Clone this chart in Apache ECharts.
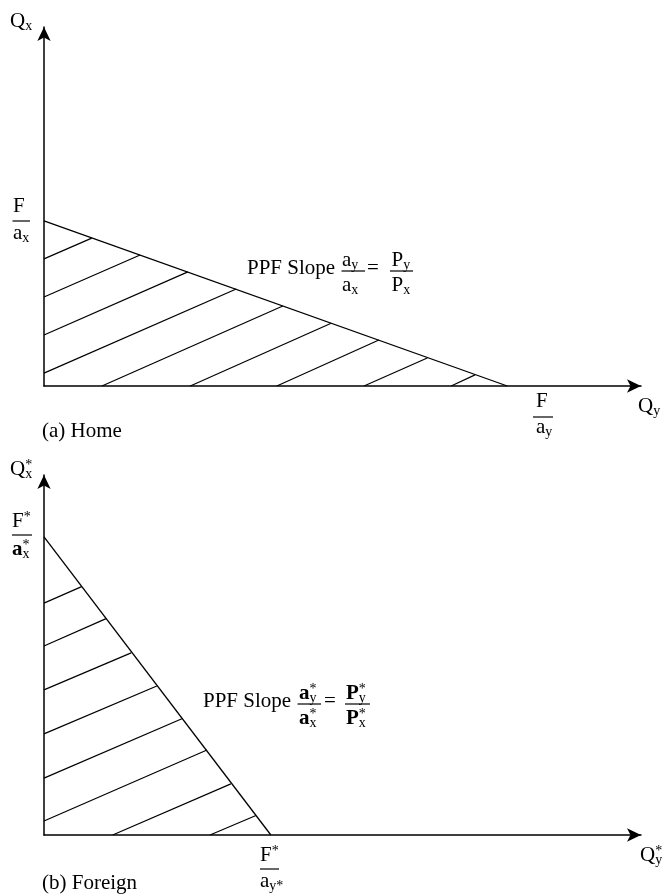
<!DOCTYPE html>
<html>
<head>
<meta charset="utf-8">
<script src="https://cdn.jsdelivr.net/npm/echarts@6/dist/echarts.min.js"></script>
<style>
  html, body { margin: 0; padding: 0; background: #fff; }
  #main { width: 662px; height: 894px; }
</style>
</head>
<body>
<div id="main"></div>
<script>
// values are in axis units (0..100 on both axes of each panel)
// (a) Home: PPF end points and the hatch segments under it
const homePPF = [[0, 46.0], [77.6, 0]];
const homeHatch = [
  [[0, 35.4], [8.0, 41.2]],
  [[0, 24.8], [16.1, 36.5]],
  [[0, 14.2], [24.1, 31.8]],
  [[0, 3.6], [32.2, 27.0]],
  [[9.7, 0], [40.0, 22.3]],
  [[24.5, 0], [48.1, 17.5]],
  [[39.0, 0], [56.1, 12.8]],
  [[53.6, 0], [64.2, 7.8]],
  [[68.2, 0], [72.2, 3.1]]
];
// (b) Foreign
const foreignPPF = [[0, 82.8], [38.0, 0]];
const foreignHatch = [
  [[0, 64.4], [6.3, 69.0]],
  [[0, 52.5], [10.4, 60.1]],
  [[0, 40.3], [14.6, 50.6]],
  [[0, 28.1], [18.9, 41.4]],
  [[0, 15.8], [23.1, 32.3]],
  [[0, 3.9], [27.3, 23.6]],
  [[11.5, 0], [31.3, 14.2]],
  [[27.8, 0], [35.5, 5.4]]
];

const FONT = '"Liberation Serif", "Times New Roman", serif';
const ctx = document.createElement('canvas').getContext('2d');
function tw(s, size, bold) {
  ctx.font = (bold ? 'bold ' : '') + size + 'px ' + FONT;
  return ctx.measureText(s).width;
}
// text placed by its baseline
function t(x, base, s, size, bold) {
  size = size || 21;
  return {
    type: 'text', x: x, y: base - size * 0.32,
    style: {
      text: s, font: (bold ? 'bold ' : '') + size + 'px ' + FONT, fill: '#000',
      align: 'left', textAlign: 'left', verticalAlign: 'middle', textVerticalAlign: 'middle'
    }
  };
}
// letter with optional subscript / superscript
function sym(x, base, letter, sub, sup, bold) {
  const out = [t(x, base, letter, 21, bold)];
  const w = tw(letter, 21, bold);
  if (sub) out.push(t(x + w, base + 3, sub, 14, false));
  if (sup) out.push(t(x + w, base - 6, sup, 14, false));
  return out;
}
function bar(x1, x2, y) {
  return { type: 'line', shape: { x1: x1, y1: y, x2: x2, y2: y }, style: { stroke: '#000', lineWidth: 1.2 } };
}

const labels = [].concat(
  // (a) Home
  sym(10, 28, 'Q', 'x'),
  [t(13, 213, 'F'), bar(12.5, 30, 221)], sym(13, 240, 'a', 'x'),
  [t(247, 275, 'PPF Slope')],
  sym(342, 267, 'a', 'y'), [bar(341.5, 365, 271)], sym(342, 292, 'a', 'x'),
  [t(367, 275, '=')],
  sym(391.5, 267, 'P', 'y'), [bar(390, 413, 271)], sym(391.5, 292, 'P', 'x'),
  [t(536, 408, 'F'), bar(533, 553, 417)], sym(536, 434, 'a', 'y'),
  sym(638, 413, 'Q', 'y'),
  [t(42, 438, '(a) Home')],
  // (b) Foreign
  sym(10, 476, 'Q', 'x', '*'),
  sym(12, 528, 'F', null, '*'), [bar(12, 32, 535)], sym(12, 556, 'a', 'x', '*', true),
  [t(203, 708, 'PPF Slope')],
  sym(299, 700, 'a', 'y', '*', true), [bar(297.5, 321, 704)], sym(299, 725, 'a', 'x', '*', true),
  [t(324, 708, '=')],
  sym(346, 700, 'P', 'y', '*', true), [bar(345, 370, 704)], sym(346, 725, 'P', 'x', '*', true),
  sym(260, 862, 'F', null, '*'), [bar(260, 279, 869)], sym(260, 888, 'a', 'y*'),
  sym(640, 862, 'Q', 'y', '*'),
  [t(42, 890, '(b) Foreign')]
);

const axisLine = {
  show: true,
  symbol: ['none', 'arrow'],
  symbolSize: [10, 14],
  lineStyle: { color: '#000', width: 1.5 }
};
function xAx(i) {
  return { type: 'value', gridIndex: i, min: 0, max: 100, axisLine: axisLine,
    axisTick: { show: false }, axisLabel: { show: false }, splitLine: { show: false } };
}
function yAx(i) {
  return { type: 'value', gridIndex: i, min: 0, max: 100, axisLine: axisLine,
    axisTick: { show: false }, axisLabel: { show: false }, splitLine: { show: false } };
}

const chart = echarts.init(document.getElementById('main'));
chart.setOption({
  animation: false,
  backgroundColor: '#fff',
  grid: [
    { left: 44, top: 27, width: 597, height: 359 },
    { left: 44, top: 475, width: 597, height: 360 }
  ],
  xAxis: [xAx(0), xAx(1)],
  yAxis: [yAx(0), yAx(1)],
  series: [
    { type: 'line', xAxisIndex: 0, yAxisIndex: 0, data: homePPF, symbol: 'none',
      lineStyle: { color: '#000', width: 1.3 } },
    { type: 'lines', coordinateSystem: 'cartesian2d', xAxisIndex: 0, yAxisIndex: 0,
      data: homeHatch.map(function (s) { return { coords: s }; }),
      lineStyle: { color: '#000', width: 1.2, opacity: 1 } },
    { type: 'line', xAxisIndex: 1, yAxisIndex: 1, data: foreignPPF, symbol: 'none',
      lineStyle: { color: '#000', width: 1.3 } },
    { type: 'lines', coordinateSystem: 'cartesian2d', xAxisIndex: 1, yAxisIndex: 1,
      data: foreignHatch.map(function (s) { return { coords: s }; }),
      lineStyle: { color: '#000', width: 1.2, opacity: 1 } }
  ],
  graphic: labels
});
</script>
</body>
</html>
